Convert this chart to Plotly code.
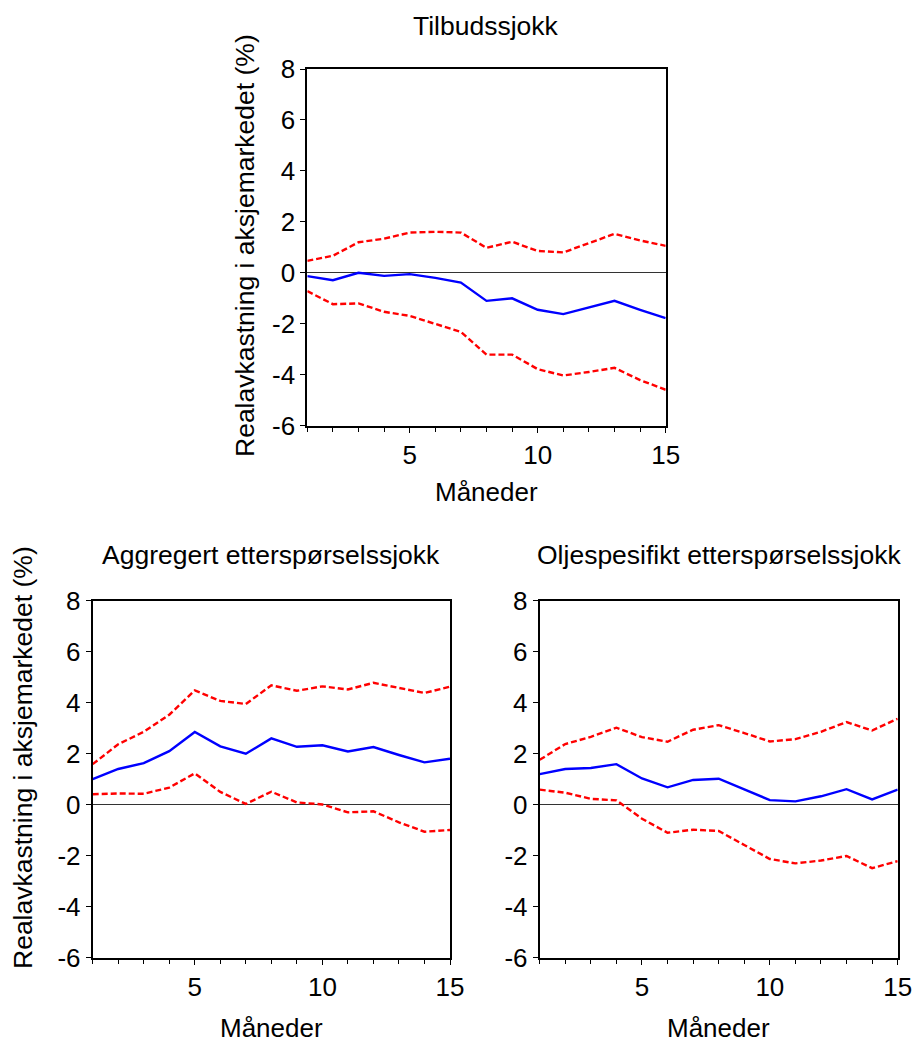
import plotly.graph_objects as go

W, H = 914, 1045
FONT = "Liberation Sans, Arial, sans-serif"

months = list(range(1, 16))

# Tilbudssjokk
supply_irf = [-0.13, -0.29, 0.0, -0.12, -0.05, -0.2, -0.38, -1.1, -1.0, -1.45, -1.62, -1.36, -1.1, -1.45, -1.78]
supply_upper = [0.47, 0.67, 1.2, 1.34, 1.58, 1.61, 1.58, 0.98, 1.22, 0.86, 0.80, 1.16, 1.53, 1.27, 1.06]
supply_lower = [-0.72, -1.23, -1.2, -1.53, -1.69, -1.99, -2.32, -3.21, -3.21, -3.78, -4.03, -3.89, -3.73, -4.21, -4.59]

# Aggregert etterspørselssjokk
agg_irf = [1.0, 1.4, 1.63, 2.1, 2.85, 2.29, 2.0, 2.6, 2.27, 2.33, 2.09, 2.26, 1.95, 1.66, 1.8]
agg_upper = [1.59, 2.37, 2.86, 3.53, 4.48, 4.07, 3.95, 4.68, 4.47, 4.64, 4.52, 4.78, 4.58, 4.38, 4.63]
agg_lower = [0.41, 0.44, 0.43, 0.67, 1.23, 0.5, 0.03, 0.51, 0.09, 0.01, -0.3, -0.26, -0.69, -1.06, -0.99]

# Oljespesifikt etterspørselssjokk
oil_irf = [1.2, 1.4, 1.44, 1.59, 1.03, 0.68, 0.97, 1.02, 0.6, 0.18, 0.13, 0.33, 0.61, 0.21, 0.59]
oil_upper = [1.76, 2.38, 2.66, 3.02, 2.65, 2.47, 2.94, 3.12, 2.81, 2.48, 2.57, 2.86, 3.24, 2.91, 3.37]
oil_lower = [0.59, 0.47, 0.23, 0.17, -0.55, -1.1, -0.98, -1.03, -1.58, -2.13, -2.3, -2.19, -2.01, -2.49, -2.21]

titles = ["Tilbudssjokk", "Aggregert etterspørselssjokk", "Oljespesifikt etterspørselssjokk"]
x_title = "Måneder"
y_title = "Realavkastning i aksjemarkedet (%)"
y_tick_vals = [-6, -4, -2, 0, 2, 4, 6, 8]
y_tick_text = ["-6", "-4", "-2", "0", "2", "4", "6", "8"]

panels = [
    (supply_irf, supply_upper, supply_lower),
    (agg_irf, agg_upper, agg_lower),
    (oil_irf, oil_upper, oil_lower),
]

# pixel boxes (left, right, top, bottom)
boxes = [
    (307.3, 665.7, 69.0, 425.7),
    (92.7, 450.0, 600.7, 957.7),
    (539.7, 897.7, 600.7, 957.7),
]

TICK_SIZE = 26
TITLE_SIZE = 26.5
XTITLE_SIZE = 26

def px_x(p):
    return p / W

def px_y(p):
    return 1 - p / H

fig = go.Figure()
layout = dict(
    width=W, height=H, autosize=False,
    margin=dict(l=0, r=0, t=0, b=0, pad=0, autoexpand=False),
    paper_bgcolor="white", plot_bgcolor="white",
    showlegend=False,
    font=dict(family=FONT, size=TICK_SIZE, color="black"),
)
annotations = []

for i, ((irf, up, lo), (l, r, t, b)) in enumerate(zip(panels, boxes)):
    ax = "" if i == 0 else str(i + 1)
    xa, ya = "x" + ax, "y" + ax
    for series, color, dash in [(up, "#FF0000", "6px,3px"), (lo, "#FF0000", "6px,3px"), (irf, "#0000FF", "solid")]:
        fig.add_trace(go.Scatter(x=months, y=series, mode="lines",
                                 line=dict(color=color, width=2.4, dash=dash),
                                 xaxis=xa, yaxis=ya, hoverinfo="skip"))
    layout["xaxis" + ax] = dict(
        domain=[px_x(l), px_x(r)], anchor=ya, range=[1, 15],
        tick0=0, dtick=5, ticks="outside", ticklen=5, tickwidth=1, tickcolor="black",
        minor=dict(dtick=1, ticks="outside", ticklen=4, tickwidth=1, tickcolor="black"),
        showgrid=False, zeroline=False, showline=True, linecolor="black", linewidth=2,
        mirror=True, tickfont=dict(size=TICK_SIZE, family=FONT), automargin=False,
    )
    layout["yaxis" + ax] = dict(
        domain=[px_y(b), px_y(t)], anchor=xa, range=[-6, 8],
        tickmode="array", tickvals=y_tick_vals, ticktext=y_tick_text,
        ticks="outside", ticklen=5, tickwidth=1, tickcolor="black",
        showgrid=False, zeroline=True, zerolinecolor="#333333", zerolinewidth=1,
        showline=True, linecolor="black", linewidth=2, mirror=True,
        tickfont=dict(size=TICK_SIZE, family=FONT), automargin=False,
    )
    cx = (l + r) / 2
    title_y = 26 if i == 0 else 555
    annotations.append(dict(text=titles[i], x=px_x(cx), y=px_y(title_y), xref="paper", yref="paper",
                            xanchor="center", yanchor="middle", showarrow=False,
                            font=dict(size=TITLE_SIZE, family=FONT)))
    xt_y = 492 if i == 0 else 1028
    annotations.append(dict(text=x_title, x=px_x(cx), y=px_y(xt_y), xref="paper", yref="paper",
                            xanchor="center", yanchor="middle", showarrow=False,
                            font=dict(size=XTITLE_SIZE, family=FONT)))

annotations.append(dict(text=y_title, x=px_x(245), y=px_y(246), xref="paper", yref="paper",
                        xanchor="center", yanchor="middle", showarrow=False, textangle=-90,
                        font=dict(size=TITLE_SIZE, family=FONT)))
annotations.append(dict(text=y_title, x=px_x(23), y=px_y(758), xref="paper", yref="paper",
                        xanchor="center", yanchor="middle", showarrow=False, textangle=-90,
                        font=dict(size=TITLE_SIZE, family=FONT)))

layout["annotations"] = annotations
fig.update_layout(**layout)
fig.write_html("out.html")
